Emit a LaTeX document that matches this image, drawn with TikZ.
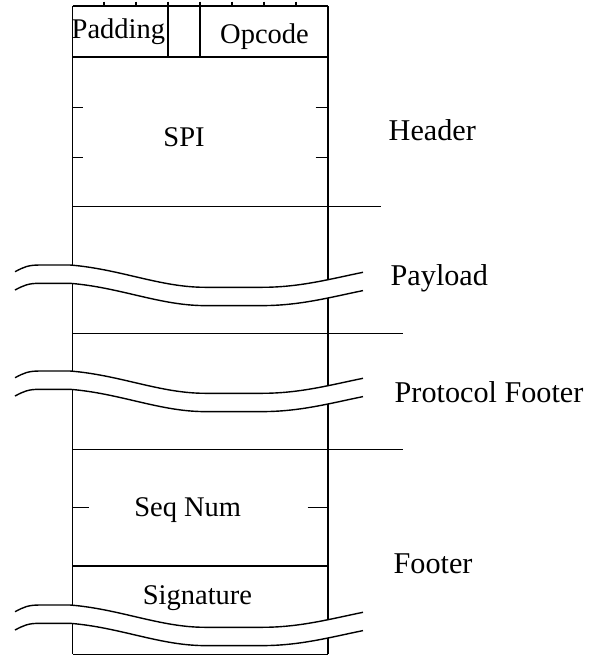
\documentclass[tikz,border=0pt]{standalone}
\usepackage{fontspec}
\setmainfont{Liberation Serif}
\begin{document}
\begin{tikzpicture}[x=1pt,y=-1pt,line width=1.4pt,
  lbl/.style={font=\fontsize{28.5}{30}\selectfont,inner sep=0pt,anchor=base},
  side/.style={font=\fontsize{30.2}{32}\selectfont,inner sep=0pt,anchor=base west},
  wavepath/.style={insert path={(15,6.7) .. controls (24,2) and (28,0) .. (40,0) -- (70,0) .. controls (120,4) and (160,22.3) .. (205,22.3) -- (262,22.3) .. controls (300,22.3) and (330,14) .. (363,7.3)}}]
\useasboundingbox (0,0) rectangle (594,656);
% box corners
\coordinate (tl) at (72.5,6);
\coordinate (tr) at (328,6);
\coordinate (bl) at (72.5,654.3);
\coordinate (br) at (328,654.3);
% top row
\draw (tl) -- (tr);
\draw (72.5,57) -- (328,57);
\draw (168,1.5) -- (168,57);
\draw (200,1.5) -- (200,57);
\foreach \x in {104,136,232,264,296} \draw (\x,1.5) -- (\x,6);
% left side segments
\draw (tl) -- (72.5,265);
\draw (72.5,283.3) -- (72.5,371);
\draw (72.5,389.3) -- (72.5,605);
\draw (72.5,623.3) -- (bl);
% right side segments
\draw (tr) -- (328,279.7);
\draw (328,298) -- (328,385.7);
\draw (328,404) -- (328,619.7);
\draw (328,638) -- (br);
\draw (bl) -- (br);
% waves
\foreach \y in {265,371,605} {
  \draw[shift={(0,\y)},wavepath];
  \draw[shift={(0,\y+18.3)},wavepath];
}
% SPI ticks
\draw (72.5,107.3) -- (83,107.3);
\draw (72.5,157.3) -- (83,157.3);
\draw (315.7,107.3) -- (328,107.3);
\draw (315.7,157.3) -- (328,157.3);
% horizontal separators
\draw (72.5,206.7) -- (381,206.7);
\draw (72.5,333.3) -- (403,333.3);
\draw (72.5,449.3) -- (403,449.3);
\draw (72.5,566) -- (328,566);
% Seq Num ticks
\draw (72.5,507.7) -- (89.3,507.7);
\draw (307.7,507.7) -- (328,507.7);
% texts
\node[lbl] (padding) at (118.4,38.3) {Padding};
\node[lbl] (opcode) at (264.5,43) {Opcode};
\node[lbl] (spi) at (184,146) {SPI};
\node[lbl] (seqnum) at (187.7,516.7) {Seq Num};
\node[lbl] (signature) at (197.5,604.3) {Signature};
\node[side] (header) at (388,140) {Header};
\node[side] (payload) at (390,285) {Payload};
\node[side] (protfooter) at (394,402.8) {Protocol Footer};
\node[side] (footer) at (393,573) {Footer};
\end{tikzpicture}
\end{document}
